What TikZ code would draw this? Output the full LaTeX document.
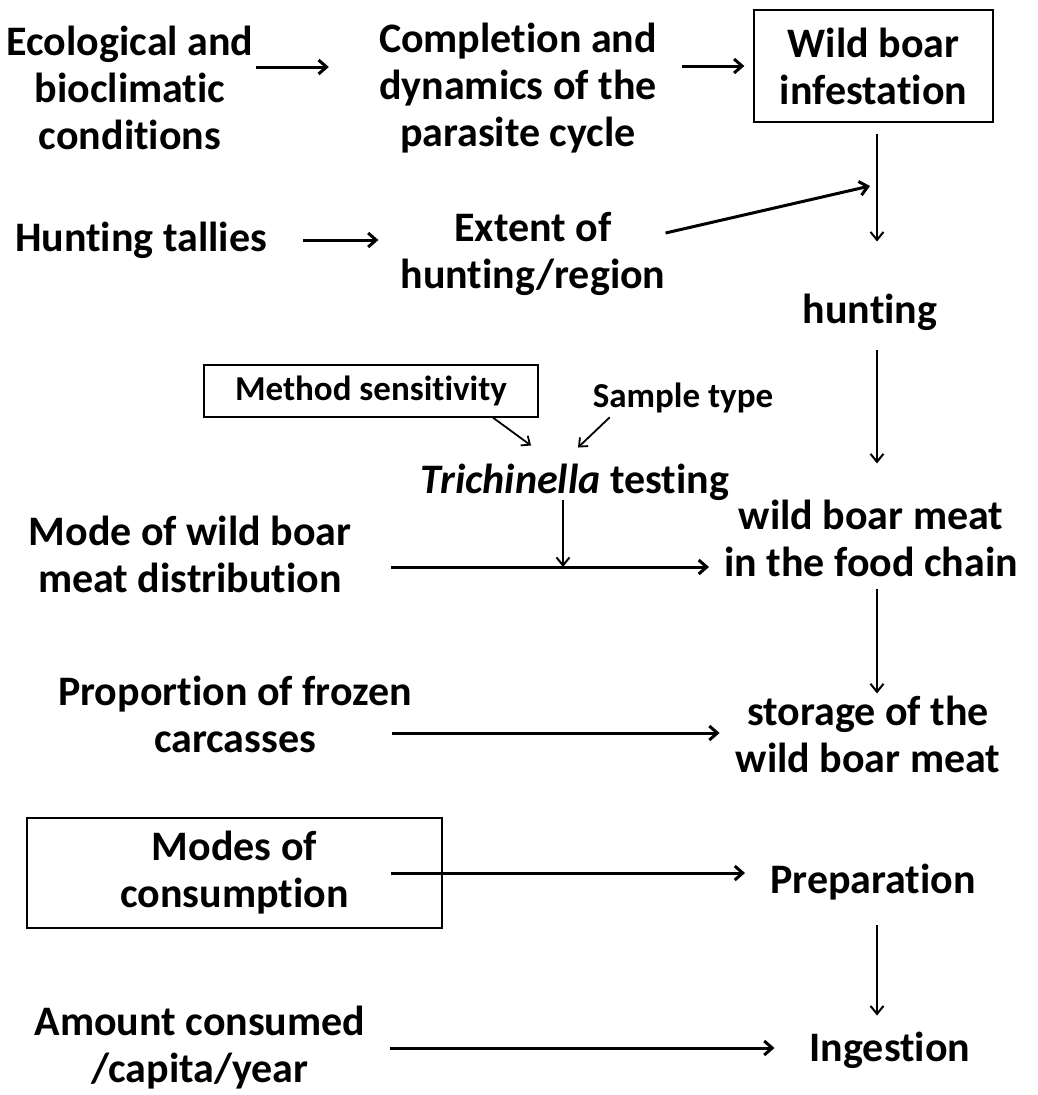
\documentclass[tikz,border=0pt]{standalone}
\usepackage{fontspec}
\setmainfont{Carlito}[Ligatures=NoCommon]
\usetikzlibrary{arrows.meta}
\newcommand{\grande}{\bfseries\fontsize{42}{47}\selectfont}
\newcommand{\chico}{\bfseries\fontsize{35}{40}\selectfont}

\begin{document}
\begin{tikzpicture}[x=1pt,y=-1pt,
	txt/.style={font=\grande,align=center,inner sep=0pt},
	caja/.style={draw,line width=1.3pt,align=center},
	gruesa/.style={-{Straight Barb[length=8pt,width=14pt]},line width=3pt},
	fina/.style={-{Straight Barb[length=8pt,width=13pt]},line width=2pt},
	flaca/.style={-{Straight Barb[length=7pt,width=12pt]},line width=1.8pt}]
	\useasboundingbox (0,0) rectangle (1037,1095);
	\coordinate (col) at (877,0);
	\node[txt] (eco) at (130,88) {Ecological and\\bioclimatic\\conditions};
	\node[txt] (cyc) at (518,88) {Completion and\\dynamics of the\\parasite cycle};
	\node[caja,font=\grande,minimum width=239pt,minimum height=112pt] (inf) at (873.5,66) {Wild boar\\infestation};
	\node[txt] (tal) at (141,240) {Hunting tallies};
	\node[txt] (ext) at (533,254) {Extent of\\hunting/region};
	\node[txt] (hun) at (870,312) {hunting};
	\node[caja,font=\chico,minimum width=334pt,minimum height=52pt,inner sep=4pt] (met) at (371,391) {Method sensitivity};
	\node[txt,font=\chico] (smp) at (683,398) {Sample type};
	\node[txt] (tri) at (575,482) {\textit{Trichinella} testing};
	\node[txt] (mod) at (190,554) {Mode of wild boar\\meat distribution};
	\node[txt] (wbm) at (871,538) {wild boar meat\\in the food chain};
	\node[txt] (prp) at (235,714) {Proportion of frozen\\carcasses};
	\node[txt] (sto) at (868,734) {storage of the\\wild boar meat};
	\node[caja,font=\grande,minimum width=415pt,minimum height=110pt] (con) at (234.5,873) {Modes of\\consumption};
	\node[txt] (pre) at (873,882) {Preparation};
	\node[txt] (amt) at (200,1048) {Amount consumed\\/capita/year};
	\node[txt] (ing) at (890,1050) {Ingestion};
	\coordinate (jn) at (870,186);
	\coordinate (tj) at (563,567);
	\coordinate (tm) at ([xshift=-44pt,yshift=18pt]tri.north);
	\coordinate (ts) at ([xshift=3pt,yshift=16pt]tri.north);
	\draw[gruesa,shorten <=2pt,shorten >=50pt] ([yshift=21pt]eco.east) -- ([yshift=21pt]cyc.west);
	\draw[gruesa,shorten <=25pt,shorten >=9pt] (cyc.east |- inf.west) -- (inf.west);
	\draw[fina,shorten <=11pt,shorten >=52pt] (inf.south -| col) -- (hun.north -| col);
	\draw[gruesa] ([yshift=21pt]ext.east) -- (jn);
	\draw[gruesa,shorten <=36pt,shorten >=22pt] (tal.east) -- (tal.east -| ext.west);
	\draw[fina,shorten <=20pt,shorten >=36pt] (hun.south -| col) -- (wbm.north -| col);
	\draw[flaca] ([xshift=122pt]met.south) -- (tm);
	\draw[flaca,shorten <=6pt] ([xshift=-69pt]smp.south) -- (ts);
	\draw[fina] (tri.south -| tj) -- (tj);
	\draw[gruesa,shorten <=40pt,shorten >=15pt] ([yshift=-13pt]mod.east) -- ([yshift=-13pt]mod.east -| wbm.west);
	\draw[fina,shorten <=12pt,shorten >=2pt] (wbm.south -| col) -- (sto.north -| col);
	\draw[gruesa,shorten <=-20pt,shorten >=16pt] ([yshift=-19pt]prp.east) -- ([yshift=-19pt]prp.east -| sto.west);
	\draw[gruesa,shorten >=25pt] ([xshift=-52pt]con.east) -- (con.east -| pre.west);
	\draw[fina,shorten <=25pt,shorten >=16pt] (pre.south -| col) -- (ing.north -| col);
	\draw[gruesa,shorten <=25pt,shorten >=35pt] (amt.east) -- (amt.east -| ing.west);
\end{tikzpicture}
\end{document}
